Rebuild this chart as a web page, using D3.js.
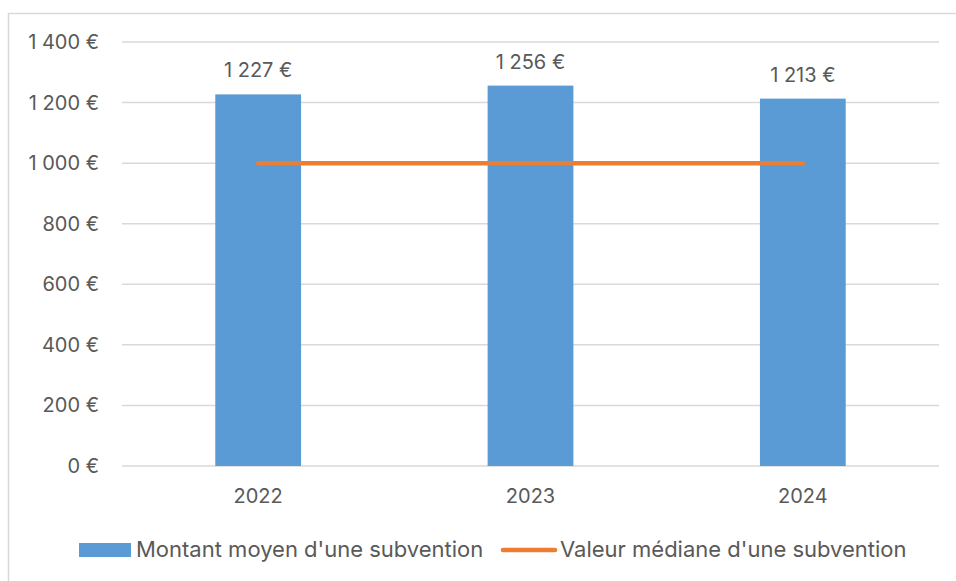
<!DOCTYPE html>
<html>
<head>
<meta charset="utf-8">
<script src="https://cdn.jsdelivr.net/npm/d3@7"></script>
<style>
  body { margin: 0; background: #fff; }
  text { font-family: Inter, "Open Sans", sans-serif; fill: #595959; }
</style>
</head>
<body>
<svg id="chart" width="956" height="581"></svg>
<script>
const years = ['2022', '2023', '2024'];
const moyenne = [1227, 1256, 1213];
const mediane = [1000, 1000, 1000];
const yTicks = [0, 200, 400, 600, 800, 1000, 1200, 1400];

const fmt = (v) => d3.format(',')(v).replace(/,/g, ' ') + ' €';

const svg = d3.select('#chart');

// chart frame
svg.append('rect')
  .attr('x', 8.5).attr('y', 13.5)
  .attr('width', 1000).attr('height', 1000)
  .attr('fill', 'none')
  .attr('stroke', '#d9d9d9')
  .attr('stroke-width', 1.5);

const plotLeft = 122, plotRight = 939, plotTop = 42, plotBottom = 466;

let x = d3.scaleBand()
  .domain(years)
  .range([plotLeft, plotRight])
  .paddingInner(0.685)
  .paddingOuter(0.3425);

let y = d3.scaleLinear().domain([0, 1400]).range([plotBottom, plotTop]);

// gridlines
svg.append('g')
  .selectAll('line')
  .data(yTicks)
  .join('line')
  .attr('x1', plotLeft).attr('x2', plotRight)
  .attr('y1', (d) => y(d)).attr('y2', (d) => y(d))
  .attr('stroke', '#d9d9d9')
  .attr('stroke-width', 1.5);

// y labels
svg.append('g')
  .selectAll('text')
  .data(yTicks)
  .join('text')
  .attr('x', 99)
  .attr('y', (d) => y(d) + 7)
  .attr('text-anchor', 'end')
  .attr('font-size', 20)
  .text(fmt);

// bars
svg.append('g')
  .selectAll('rect')
  .data(moyenne)
  .join('rect')
  .attr('x', (d, i) => x(years[i]))
  .attr('y', (d) => y(d))
  .attr('width', x.bandwidth())
  .attr('height', (d) => y(0) - y(d))
  .attr('fill', '#5b9bd5');

// bar labels
svg.append('g')
  .selectAll('text')
  .data(moyenne)
  .join('text')
  .attr('x', (d, i) => x(years[i]) + x.bandwidth() / 2)
  .attr('y', (d) => y(d) - 17)
  .attr('text-anchor', 'middle')
  .attr('font-size', 20)
  .text(fmt);

// median line
const line = d3.line()
  .x((d, i) => x(years[i]) + x.bandwidth() / 2)
  .y((d) => y(d));

svg.append('path')
  .datum(mediane)
  .attr('d', line)
  .attr('fill', 'none')
  .attr('stroke', '#ed7d31')
  .attr('stroke-width', 4.5)
  .attr('stroke-linecap', 'round');

// x labels
svg.append('g')
  .selectAll('text')
  .data(years)
  .join('text')
  .attr('x', (d) => x(d) + x.bandwidth() / 2)
  .attr('y', 503)
  .attr('text-anchor', 'middle')
  .attr('font-size', 20)
  .text((d) => d);

// legend
const legend = svg.append('g');
legend.append('rect')
  .attr('x', 79).attr('y', 543)
  .attr('width', 52).attr('height', 14)
  .attr('fill', '#5b9bd5');
legend.append('text')
  .attr('x', 136).attr('y', 557)
  .attr('font-size', 22)
  .text("Montant moyen d'une subvention");
legend.append('line')
  .attr('x1', 503).attr('x2', 555)
  .attr('y1', 550).attr('y2', 550)
  .attr('stroke', '#ed7d31')
  .attr('stroke-width', 4.5)
  .attr('stroke-linecap', 'round');
legend.append('text')
  .attr('x', 560).attr('y', 557)
  .attr('font-size', 22)
  .text("Valeur médiane d'une subvention");
</script>
</body>
</html>
